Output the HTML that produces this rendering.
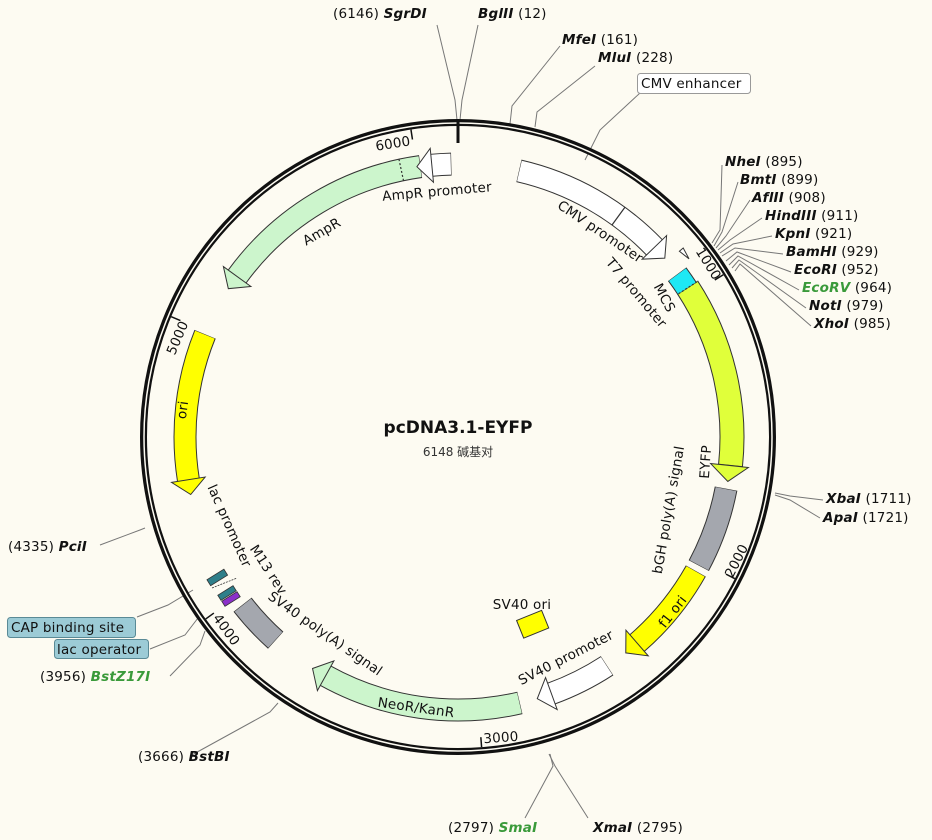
<!DOCTYPE html>
<html><head><meta charset="utf-8">
<style>
html,body{margin:0;padding:0;background:#fdfbf2;}
svg{display:block;font-family:"DejaVu Sans","Liberation Sans","Noto Sans CJK SC",sans-serif;}
.t{font-size:13.5px;fill:#111;white-space:pre;letter-spacing:0.2px;}
.b{font-weight:bold;font-style:italic;}
.g{fill:#3a9a3a;}
.ln{stroke:#777;stroke-width:1;fill:none;}
</style></head><body>
<svg width="932" height="840" viewBox="0 0 932 840" xmlns="http://www.w3.org/2000/svg">
<rect width="932" height="840" fill="#fdfbf2"/>

<g class="ln">
<polyline points="437,25 455,100 457,120"/>
<polyline points="478,25 462,100 460,120"/>
<polyline points="560,46 512,106 510,124"/>
<polyline points="595,66 537,112 535,127"/>
<polyline points="640,93 600,130 585,160"/>
<polyline points="722,165 720,230 712,243"/>
<polyline points="738,182 722,232 714,246"/>
<polyline points="750,200 726,236 716,248"/>
<polyline points="762,218 730,240 718,250"/>
<polyline points="772,236 733,244 720,253"/>
<polyline points="783,254 735,248 722,256"/>
<polyline points="791,272 737,252 726,261"/>
<polyline points="799,290 738,256 729,265"/>
<polyline points="806,308 739,260 732,268"/>
<polyline points="811,326 740,264 735,271"/>
<polyline points="823,500 790,496 775,493"/>
<polyline points="820,518 790,500 775,495"/>
<polyline points="525,818 553,766 550,754"/>
<polyline points="588,818 555,766 549,754"/>
<polyline points="190,756 270,712 278,703"/>
<polyline points="170,676 200,645 205,631"/>
<polyline points="150,649 185,635 198,618"/>
<polyline points="137,617 168,605 193,590"/>
<polyline points="100,545 140,530 145,528"/>
</g>

<circle cx="458" cy="437" r="314.5" fill="none" stroke="#111" stroke-width="7"/>
<circle cx="458" cy="437" r="314.0" fill="none" stroke="#fdfbf2" stroke-width="1.5"/>
<line x1="458" y1="121" x2="458" y2="143" stroke="#111" stroke-width="3"/>

<g stroke="#111" stroke-width="1.5">
<line x1="458" y1="126" x2="458" y2="136" transform="rotate(58.55 458 437)"/>
<line x1="458" y1="126" x2="458" y2="136" transform="rotate(117.1 458 437)"/>
<line x1="458" y1="126" x2="458" y2="136" transform="rotate(175.65 458 437)"/>
<line x1="458" y1="126" x2="458" y2="136" transform="rotate(234.2 458 437)"/>
<line x1="458" y1="126" x2="458" y2="136" transform="rotate(292.75 458 437)"/>
<line x1="458" y1="126" x2="458" y2="136" transform="rotate(351.3 458 437)"/>
</g>
<g class="t" text-anchor="middle" dominant-baseline="central">
<text x="393" y="144" transform="rotate(-9 393 144)" class="t">6000</text>
<text x="708" y="264" transform="rotate(58 708 264)" class="t">1000</text>
<text x="737" y="561" transform="rotate(-63 737 561)" class="t">2000</text>
<text x="501" y="738" transform="rotate(-4 501 738)" class="t">3000</text>
<text x="226" y="630" transform="rotate(54 226 630)" class="t">4000</text>
<text x="178" y="338" transform="rotate(-67 178 338)" class="t">5000</text>
</g>

<g fill="none">
<circle cx="458" cy="437" r="273" stroke="#333" stroke-width="23" stroke-dasharray="158.2 3000" transform="rotate(-77.1 458 437)"/>
<circle cx="458" cy="437" r="273" stroke="#fff" stroke-width="21" stroke-dasharray="157.2 3000" transform="rotate(-77 458 437)"/>
<circle cx="458" cy="437" r="274" stroke="#333" stroke-width="25" stroke-dasharray="187 3000" transform="rotate(-33.1 458 437)"/>
<circle cx="458" cy="437" r="274" stroke="#e0ff3a" stroke-width="23" stroke-dasharray="185.8 3000" transform="rotate(-33 458 437)"/>
<circle cx="458" cy="437" r="273" stroke="#333" stroke-width="23" stroke-dasharray="17.6 3000" transform="rotate(-36.6 458 437)"/>
<circle cx="458" cy="437" r="273" stroke="#1ee8f4" stroke-width="21" stroke-dasharray="16.6 3000" transform="rotate(-36.5 458 437)"/>
<circle cx="458" cy="437" r="273" stroke="#333" stroke-width="23" stroke-dasharray="82 3000" transform="rotate(10.9 458 437)"/>
<circle cx="458" cy="437" r="273" stroke="#a4a7ae" stroke-width="21" stroke-dasharray="81 3000" transform="rotate(11 458 437)"/>
<circle cx="458" cy="437" r="273" stroke="#333" stroke-width="23" stroke-dasharray="94 3000" transform="rotate(29.4 458 437)"/>
<circle cx="458" cy="437" r="273" stroke="#ffff00" stroke-width="21" stroke-dasharray="93 3000" transform="rotate(29.5 458 437)"/>
<circle cx="458" cy="437" r="273" stroke="#333" stroke-width="23" stroke-dasharray="62.8 3000" transform="rotate(56.9 458 437)"/>
<circle cx="458" cy="437" r="273" stroke="#fff" stroke-width="21" stroke-dasharray="61.9 3000" transform="rotate(57 458 437)"/>
<circle cx="458" cy="437" r="273" stroke="#333" stroke-width="23" stroke-dasharray="201 3000" transform="rotate(76.9 458 437)"/>
<circle cx="458" cy="437" r="273" stroke="#ccf5cc" stroke-width="21" stroke-dasharray="200 3000" transform="rotate(77 458 437)"/>
<circle cx="458" cy="437" r="273" stroke="#333" stroke-width="23" stroke-dasharray="48.6 3000" transform="rotate(131.9 458 437)"/>
<circle cx="458" cy="437" r="273" stroke="#a4a7ae" stroke-width="21" stroke-dasharray="47.6 3000" transform="rotate(132 458 437)"/>
<circle cx="458" cy="437" r="273" stroke="#333" stroke-width="23" stroke-dasharray="148.7 3000" transform="rotate(170.9 458 437)"/>
<circle cx="458" cy="437" r="273" stroke="#ffff00" stroke-width="21" stroke-dasharray="147.7 3000" transform="rotate(171 458 437)"/>
<circle cx="458" cy="437" r="273" stroke="#333" stroke-width="23" stroke-dasharray="220.2 3000" transform="rotate(215.9 458 437)"/>
<circle cx="458" cy="437" r="273" stroke="#ccf5cc" stroke-width="21" stroke-dasharray="219.2 3000" transform="rotate(216 458 437)"/>
<circle cx="458" cy="437" r="273" stroke="#333" stroke-width="23" stroke-dasharray="20 3000" transform="rotate(264.4 458 437)"/>
<circle cx="458" cy="437" r="273" stroke="#fff" stroke-width="21" stroke-dasharray="19 3000" transform="rotate(264.5 458 437)"/>
</g>
<g stroke="#333" stroke-width="1">
<polygon points="458,147 458,181 473,164" fill="#fff" transform="rotate(46 458 437)"/>
<polygon points="458,145 458,183 474,164" fill="#e0ff3a" transform="rotate(96 458 437)"/>
<polygon points="458,147 458,181 473,164" fill="#ffff00" transform="rotate(139 458 437)"/>
<polygon points="458,147 458,181 473,164" fill="#fff" transform="rotate(160 458 437)"/>
<polygon points="458,147 458,181 473,164" fill="#ccf5cc" transform="rotate(209 458 437)"/>
<polygon points="458,147 458,181 443,164" fill="#ffff00" transform="rotate(261 458 437)"/>
<polygon points="458,147 458,181 443,164" fill="#ccf5cc" transform="rotate(306 458 437)"/>
<polygon points="458,147 458,181 443,164" fill="#fff" transform="rotate(354.5 458 437)"/>
<polygon points="458,143 458,148 470,145.5" fill="#fff" transform="rotate(50 458 437)"/>
</g>
<g stroke="#333" stroke-width="1.2">
<line x1="458" y1="153" x2="458" y2="175" transform="rotate(36 458 437)"/>
<line x1="458" y1="152" x2="458" y2="176" transform="rotate(57 458 437)" stroke-dasharray="2 2"/>
<line x1="458" y1="153" x2="458" y2="175" transform="rotate(348 458 437)" stroke-dasharray="2 2"/>
</g>
<g stroke="#333" stroke-width="0.8">
<rect x="207" y="574" width="20" height="7" fill="#2f7f8a" transform="rotate(-32 217 577)"/>
<rect x="218" y="590" width="18" height="6" fill="#2f7f8a" transform="rotate(-32 227 593)"/>
<rect x="222" y="596" width="18" height="6" fill="#8b2fc9" transform="rotate(-32 231 599)"/>
<line x1="212" y1="588" x2="237" y2="578" stroke-dasharray="2 1"/>
</g>
<rect x="519" y="615" width="27" height="19" fill="#ffff00" stroke="#333" transform="rotate(-22 532 624)"/>

<g class="t" text-anchor="middle" dominant-baseline="central">
<text x="437" y="192" transform="rotate(-5 437 192)">AmpR promoter</text>
<text x="322" y="232" transform="rotate(-30 322 232)">AmpR</text>
<text x="600" y="232" transform="rotate(34 600 232)">CMV promoter</text>
<text x="636" y="293" transform="rotate(50 636 293)">T7 promoter</text>
<text x="664" y="298" transform="rotate(62 664 298)">MCS</text>
<text x="706" y="462" transform="rotate(-86 706 462)">EYFP</text>
<text x="669" y="510" transform="rotate(-80 669 510)">bGH poly(A) signal</text>
<text x="673" y="612" transform="rotate(-52 673 612)">f1 ori</text>
<text x="566" y="658" transform="rotate(-27 566 658)">SV40 promoter</text>
<text x="416" y="708" transform="rotate(8 416 708)">NeoR/KanR</text>
<text x="325" y="634" transform="rotate(35 325 634)">SV40 poly(A) signal</text>
<text x="268" y="570" transform="rotate(57 268 570)">M13 rev</text>
<text x="229" y="526" transform="rotate(66 229 526)">lac promoter</text>
<text x="183" y="410" transform="rotate(-82 183 410)">ori</text>
<text x="522" y="605">SV40 ori</text>
</g>
<text x="458" y="433" text-anchor="middle" style="font-size:17px;font-weight:bold" fill="#111">pcDNA3.1-EYFP</text>
<text x="458" y="456" text-anchor="middle" style="font-size:12px" fill="#333">6148 碱基对</text>

<g class="t">
<text x="333" y="18">(6146)  <tspan class="b">SgrDI</tspan></text>
<text x="478" y="18"><tspan class="b">BglII</tspan>  (12)</text>
<text x="562" y="44"><tspan class="b">MfeI</tspan>  (161)</text>
<text x="598" y="62"><tspan class="b">MluI</tspan>  (228)</text>
<text x="725" y="166"><tspan class="b">NheI</tspan>  (895)</text>
<text x="740" y="184"><tspan class="b">BmtI</tspan>  (899)</text>
<text x="752" y="202"><tspan class="b">AflII</tspan>  (908)</text>
<text x="765" y="220"><tspan class="b">HindIII</tspan>  (911)</text>
<text x="775" y="238"><tspan class="b">KpnI</tspan>  (921)</text>
<text x="786" y="256"><tspan class="b">BamHI</tspan>  (929)</text>
<text x="794" y="274"><tspan class="b">EcoRI</tspan>  (952)</text>
<text x="802" y="292"><tspan class="b g">EcoRV</tspan>  (964)</text>
<text x="809" y="310"><tspan class="b">NotI</tspan>  (979)</text>
<text x="814" y="328"><tspan class="b">XhoI</tspan>  (985)</text>
<text x="826" y="503"><tspan class="b">XbaI</tspan>  (1711)</text>
<text x="823" y="522"><tspan class="b">ApaI</tspan>  (1721)</text>
<text x="593" y="832"><tspan class="b">XmaI</tspan>  (2795)</text>
<text x="448" y="832">(2797)  <tspan class="b g">SmaI</tspan></text>
<text x="138" y="761">(3666)  <tspan class="b">BstBI</tspan></text>
<text x="40" y="681">(3956)  <tspan class="b g">BstZ17I</tspan></text>
<text x="8" y="551">(4335)  <tspan class="b">PciI</tspan></text>
</g>
<rect x="637.5" y="73.5" width="113" height="20" rx="3" fill="#fff" stroke="#999"/>
<text x="641" y="88" class="t">CMV enhancer</text>
<rect x="7.5" y="617.5" width="128" height="20" rx="3" fill="#9ccbd6" stroke="#5a8a96"/>
<text x="11" y="632" class="t">CAP binding site</text>
<rect x="54.5" y="639.5" width="94" height="19" rx="3" fill="#9ccbd6" stroke="#5a8a96"/>
<text x="57" y="654" class="t">lac operator</text>
</svg>
</body></html>
